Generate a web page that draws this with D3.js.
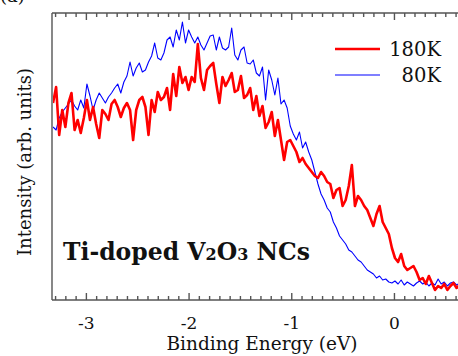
<!DOCTYPE html>
<html>
<head>
<meta charset="utf-8">
<script src="https://cdn.jsdelivr.net/npm/d3@7"></script>
<style>
  html, body { margin: 0; padding: 0; background: #fff; }
  svg { display: block; }
  .serif { font-family: "DejaVu Serif", serif; }
</style>
</head>
<body>
<svg id="chart" width="458" height="356"></svg>
<script>
// Binding energy (eV)
const energy = [
-3.32,-3.29,-3.26,-3.23,-3.20,-3.17,-3.14,-3.11,-3.08,-3.05,
-3.02,-2.99,-2.96,-2.93,-2.90,-2.87,-2.84,-2.81,-2.78,-2.75,
-2.72,-2.69,-2.66,-2.63,-2.60,-2.57,-2.54,-2.51,-2.48,-2.45,
-2.42,-2.39,-2.36,-2.33,-2.30,-2.27,-2.24,-2.21,-2.18,-2.15,
-2.12,-2.09,-2.06,-2.03,-2.00,-1.97,-1.94,-1.91,-1.88,-1.85,
-1.82,-1.79,-1.76,-1.73,-1.70,-1.67,-1.64,-1.61,-1.58,-1.55,
-1.52,-1.49,-1.46,-1.43,-1.40,-1.37,-1.34,-1.31,-1.28,-1.25,
-1.22,-1.19,-1.16,-1.13,-1.10,-1.07,-1.04,-1.01,-0.98,-0.95,
-0.92,-0.89,-0.86,-0.83,-0.80,-0.77,-0.74,-0.71,-0.68,-0.65,
-0.62,-0.59,-0.56,-0.53,-0.50,-0.47,-0.44,-0.41,-0.38,-0.35,
-0.32,-0.29,-0.26,-0.23,-0.20,-0.17,-0.14,-0.11,-0.08,-0.05,
-0.02,0.01,0.04,0.07,0.10,0.13,0.16,0.19,0.22,0.25,
0.28,0.31,0.34,0.37,0.40,0.43,0.46,0.49,0.52,0.55,
0.58,0.61,0.64
];
// Intensity (arb. units), 180 K
const int180K = [
197,213,165,190,173,197,207,170,180,167,
182,200,180,193,176,162,190,186,180,196,
200,193,183,192,197,190,160,190,200,203,
193,165,200,188,208,200,203,212,190,226,
204,233,217,223,210,223,218,256,222,210,
230,234,237,216,197,223,214,220,227,208,
210,224,202,205,212,190,204,184,194,172,
178,188,164,180,160,140,158,160,154,148,
138,142,136,132,128,124,122,128,124,118,
116,102,110,112,94,100,114,135,94,104,
100,94,90,82,74,86,94,78,72,66,
52,42,38,46,34,30,32,34,28,20,
22,16,24,17,10,14,12,16,10,14,
17,12,15
];
// Intensity (arb. units), 80 K
const int80K = [
173,170,182,188,192,196,200,194,190,200,
192,216,204,190,200,207,202,197,203,207,
212,216,207,218,224,238,224,232,237,228,
230,238,244,257,242,240,247,260,263,253,
270,260,278,257,270,263,257,263,255,250,
257,264,265,250,263,252,250,253,272,245,
240,250,253,237,236,240,227,224,233,200,
230,220,205,222,196,200,192,174,166,160,
168,152,158,148,140,128,116,106,100,92,
88,78,72,64,60,56,50,48,44,40,
38,34,30,28,26,22,24,20,21,18,
17,19,16,20,15,18,16,14,17,19,
16,18,14,17,15,21,16,18,14,17,
18,15,17
];
const seriesNames = ["180K", "80K"];
const xTickValues = [-3, -2, -1, 0];
const xTickLabels = ["-3", "-2", "-1", "0"];
const xDomain = [-3.33, 0.65];
const yDomain = [0, 287];

const svg = d3.select("#chart");
const mLeft = 52, mTop = 13, mBottom = 300, mRight = 460.7;

const x = d3.scaleLinear().domain(xDomain).range([mLeft, mRight]);
const y = d3.scaleLinear().domain(yDomain).range([mBottom, mTop]);

const axisColor = "#555";

// minor ticks every 0.1 eV
const minorTicks = d3.range(-33, 7).map(d => d / 10).filter(d => Math.abs(d - Math.round(d)) > 1e-6);

// bottom axis (ticks inward)
const gB = svg.append("g").attr("transform", `translate(0,${mBottom})`);
gB.call(d3.axisBottom(x).tickValues(minorTicks).tickSize(-4).tickFormat(""));
gB.call(g => g.select(".domain").remove());
const gB2 = svg.append("g").attr("transform", `translate(0,${mBottom})`);
gB2.call(d3.axisBottom(x).tickValues(xTickValues).tickSize(-7).tickPadding(17)
  .tickFormat((d, i) => xTickLabels[i]));
gB2.selectAll(".domain").attr("d", `M${mLeft},0H${mRight}`);
gB2.attr("font-family", null).attr("font-size", null);
gB2.selectAll("text").attr("class", "serif").style("font-size", "17px").attr("fill", "#111");

// top axis (ticks inward)
const gT = svg.append("g").attr("transform", `translate(0,${mTop})`);
gT.call(d3.axisTop(x).tickValues(minorTicks).tickSize(-4).tickFormat(""));
gT.call(g => g.select(".domain").remove());
const gT2 = svg.append("g").attr("transform", `translate(0,${mTop})`);
gT2.call(d3.axisTop(x).tickValues(xTickValues).tickSize(-7).tickFormat(""));
gT2.selectAll(".domain").attr("d", `M${mLeft},0H${mRight}`);

// left axis (line only)
const gL = svg.append("g").attr("transform", `translate(${mLeft},0)`);
gL.call(d3.axisLeft(y).tickValues([]).tickSizeOuter(0));
gL.selectAll(".domain").attr("d", `M0,${mTop}V${mBottom}`);

svg.selectAll(".domain, .tick line").attr("stroke", axisColor).attr("stroke-width", 1.4);

// clip
svg.append("clipPath").attr("id", "plotclip").append("rect")
  .attr("x", mLeft + 1).attr("y", mTop + 1).attr("width", mRight - mLeft).attr("height", mBottom - mTop - 2);

const line = d3.line().x((d, i) => x(energy[i])).y(d => y(d));

svg.append("path").datum(int80K)
  .attr("clip-path", "url(#plotclip)")
  .attr("d", line).attr("fill", "none").attr("stroke", "#0000ff").attr("stroke-width", 1.1)
  .attr("stroke-linejoin", "round");
svg.append("path").datum(int180K)
  .attr("clip-path", "url(#plotclip)")
  .attr("d", line).attr("fill", "none").attr("stroke", "#ff0000").attr("stroke-width", 2.6)
  .attr("stroke-linejoin", "round");

// legend
const legend = [
  { name: seriesNames[0], color: "#ff0000", w: 2.6, ly: 49 },
  { name: seriesNames[1], color: "#0000ff", w: 1.1, ly: 75 }
];
legend.forEach(l => {
  svg.append("line").attr("x1", 335).attr("x2", 380).attr("y1", l.ly).attr("y2", l.ly)
    .attr("stroke", l.color).attr("stroke-width", l.w);
  svg.append("text").attr("x", 441).attr("y", l.ly + 7).attr("text-anchor", "end")
    .attr("class", "serif").style("font-size", "19.5px").attr("fill", "#111").text(l.name);
});

// axis titles
svg.append("text").attr("x", 262).attr("y", 350).attr("text-anchor", "middle")
  .attr("class", "serif").style("font-size", "18.5px").attr("fill", "#111")
  .text("Binding Energy (eV)");
svg.append("text").attr("transform", "translate(31,162) rotate(-90)").attr("text-anchor", "middle")
  .attr("class", "serif").style("font-size", "18px").attr("fill", "#111")
  .text("Intensity (arb. units)");

// panel label (mostly cut off at top, as in the reference)
svg.append("text").attr("x", 0).attr("y", 2).attr("class", "serif").style("font-size", "18px")
  .attr("fill", "#111").text("(a)");

// annotation
const ann = svg.append("text").attr("x", 63).attr("y", 260)
  .style("font-family", "'DejaVu Serif', serif").style("font-weight", "bold").style("font-size", "23.5px")
  .attr("fill", "#111");
ann.append("tspan").text("Ti-doped V");
ann.append("tspan").style("font-size", "16px").text("2");
ann.append("tspan").text("O");
ann.append("tspan").style("font-size", "16px").text("3");
ann.append("tspan").text(" NCs");
</script>
</body>
</html>
